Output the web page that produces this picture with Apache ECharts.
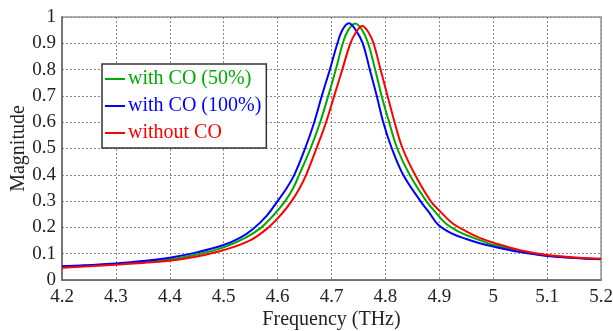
<!DOCTYPE html>
<html>
<head>
<meta charset="utf-8">
<script src="https://cdn.jsdelivr.net/npm/echarts@6/dist/echarts.min.js"></script>
<style>
html, body { margin: 0; padding: 0; background: #fff; }
#chart { width: 613px; height: 331px; }
</style>
</head>
<body>
<div id="chart"></div>
<script>
// values: [frequency THz, magnitude]
var co50 = [
    [4.20, 0.050], [4.25, 0.055], [4.30, 0.061], [4.35, 0.068], [4.40, 0.078],
    [4.45, 0.097], [4.50, 0.124], [4.54, 0.160], [4.570, 0.20], [4.594, 0.25],
    [4.614, 0.30], [4.629, 0.35], [4.640, 0.40], [4.661, 0.50], [4.679, 0.60],
    [4.694, 0.70], [4.708, 0.80], [4.721, 0.90], [4.731, 0.950], [4.744, 0.975],
    [4.757, 0.950], [4.768, 0.90], [4.781, 0.80], [4.793, 0.70], [4.807, 0.60],
    [4.822, 0.50], [4.845, 0.40], [4.876, 0.30], [4.892, 0.26], [4.912, 0.215],
    [4.935, 0.185], [4.96, 0.163], [4.98, 0.148], [5.00, 0.134], [5.05, 0.110],
    [5.10, 0.093], [5.15, 0.085], [5.20, 0.080]
];
var co100 = [
    [4.20, 0.052], [4.25, 0.057], [4.30, 0.063], [4.35, 0.072], [4.40, 0.085],
    [4.45, 0.105], [4.50, 0.133], [4.53, 0.160], [4.555, 0.195], [4.58, 0.245],
    [4.600, 0.30], [4.617, 0.35], [4.631, 0.40], [4.651, 0.50], [4.668, 0.60],
    [4.682, 0.70], [4.697, 0.80], [4.711, 0.90], [4.720, 0.950], [4.732, 0.976],
    [4.745, 0.950], [4.758, 0.90], [4.771, 0.80], [4.784, 0.70], [4.796, 0.60],
    [4.812, 0.50], [4.833, 0.40], [4.865, 0.30], [4.880, 0.26], [4.898, 0.21],
    [4.925, 0.175], [4.95, 0.156], [4.975, 0.140], [5.00, 0.127], [5.05, 0.106],
    [5.10, 0.091], [5.15, 0.084], [5.20, 0.079]
];
var noCo = [
    [4.20, 0.047], [4.25, 0.052], [4.30, 0.058], [4.35, 0.065], [4.40, 0.073],
    [4.45, 0.089], [4.50, 0.114], [4.55, 0.152], [4.583, 0.20], [4.607, 0.25],
    [4.626, 0.30], [4.641, 0.35], [4.653, 0.40], [4.672, 0.50], [4.690, 0.60],
    [4.705, 0.70], [4.720, 0.80], [4.735, 0.90], [4.745, 0.940], [4.757, 0.966],
    [4.769, 0.940], [4.778, 0.90], [4.791, 0.80], [4.804, 0.70], [4.817, 0.60],
    [4.832, 0.50], [4.855, 0.40], [4.884, 0.30], [4.902, 0.26], [4.925, 0.215],
    [4.95, 0.185], [4.975, 0.160], [5.00, 0.142], [5.05, 0.113], [5.10, 0.095],
    [5.15, 0.086], [5.20, 0.081]
];
var seriesNames = ['with CO (50%)', 'with CO (100%)', 'without CO'];
var seriesColors = ['#00aa00', '#0000ff', '#ff0000'];
var seriesData = [co50, co100, noCo];

var font = 'Liberation Serif';
var myChart = echarts.init(document.getElementById('chart'));

var option = {
    animation: false,
    textStyle: { fontFamily: font },
    grid: {
        left: 62, right: 12, top: 17, bottom: 51,
        outerBoundsMode: 'none',
        containLabel: false,
        show: true,
        borderColor: '#b0b0b0',
        borderWidth: 2
    },
    legend: {
        orient: 'vertical',
        left: 102,
        top: 64,
        icon: 'rect',
        itemWidth: 20,
        itemHeight: 2,
        itemGap: 7,
        padding: [5, 5, 5, 3],
        borderColor: '#333',
        borderWidth: 1.5,
        backgroundColor: '#fff',
        textStyle: { fontFamily: font, fontSize: 20, padding: [0, 0, 0, -2] },
        data: seriesNames.map(function (n, i) {
            return { name: n, textStyle: { color: seriesColors[i] } };
        })
    },
    xAxis: {
        type: 'value',
        min: 4.2,
        max: 5.2,
        interval: 0.1,
        name: 'Frequency (THz)',
        nameLocation: 'middle',
        nameGap: 30,
        nameMoveOverlap: false,
        nameTextStyle: { fontFamily: font, fontSize: 20, color: '#222' },
        axisLine: { lineStyle: { color: '#666', width: 1.5 } },
        axisTick: { show: false },
        axisLabel: {
            fontFamily: font, fontSize: 19, color: '#222', margin: 8,
            formatter: function (v) { return +v.toFixed(1) + ''; }
        },
        splitLine: { lineStyle: { color: '#888', type: [2, 2], width: 1 } }
    },
    yAxis: {
        type: 'value',
        min: 0,
        max: 1,
        interval: 0.1,
        name: 'Magnitude',
        nameLocation: 'middle',
        nameGap: 33,
        nameMoveOverlap: false,
        nameTextStyle: { fontFamily: font, fontSize: 20, color: '#222' },
        axisLine: { show: true, lineStyle: { color: '#666', width: 1.5 } },
        axisTick: { show: false },
        axisLabel: {
            fontFamily: font, fontSize: 19, color: '#222', margin: 6,
            formatter: function (v) { return +v.toFixed(1) + ''; }
        },
        splitLine: { lineStyle: { color: '#888', type: [2, 2], width: 1 } }
    },
    series: seriesData.map(function (d, i) {
        return {
            name: seriesNames[i],
            type: 'line',
            data: d,
            smooth: 0.4,
            showSymbol: false,
            color: seriesColors[i],
            lineStyle: { width: 2, color: seriesColors[i] }
        };
    })
};

myChart.setOption(option);
window.addEventListener('resize', function () {
    myChart.resize();
});
</script>
</body>
</html>
